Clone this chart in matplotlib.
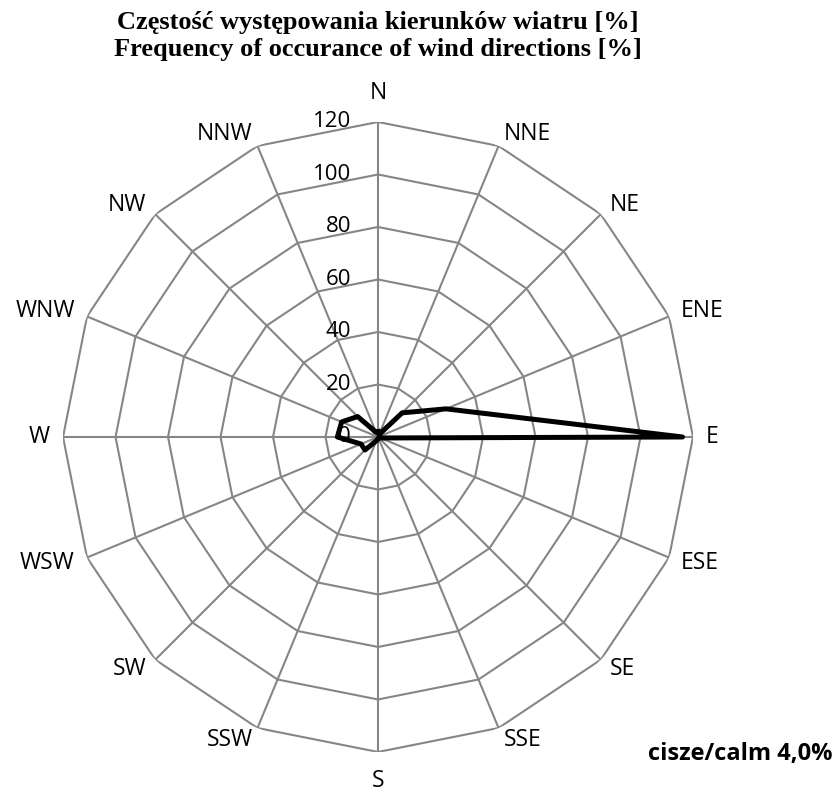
import numpy as np
import matplotlib.pyplot as plt

## Wind rose data (frequency of wind directions)

directions = ['N', 'NNE', 'NE', 'ENE', 'E', 'ESE', 'SE', 'SSE',
              'S', 'SSW', 'SW', 'WSW', 'W', 'WNW', 'NW', 'NNW']
freq = [2, 1, 13, 28, 116, 1, 0.5, 0.5, 0.5, 1.5, 7, 7, 15.5, 15, 11, 2]
rings = [20, 40, 60, 80, 100, 120]
ring_labels = ['20', '40', '60', '80', '100', '120']
calm_text = 'cisze/calm 4,0%'

theta = np.deg2rad(np.arange(len(directions)) * 22.5)
theta_closed = np.append(theta, theta[0])
grid_col = '#868686'

fig = plt.figure(figsize=(8.38, 7.94), dpi=100)
ax = fig.add_axes([0.0752, 0.0529, 0.7518, 0.7935], projection='polar')
ax.set_theta_zero_location('N')
ax.set_theta_direction(-1)
ax.set_ylim(0, 120)
ax.grid(False)
ax.spines['polar'].set_visible(False)
ax.set_xticks([])
ax.set_yticks([])

# polygon grid, Excel radar style
for r in rings:
    ax.plot(theta_closed, [r] * len(theta_closed), color=grid_col, lw=1.5, zorder=1)
for t in theta:
    ax.plot([t, t], [0, 120], color=grid_col, lw=1.5, zorder=1)

# data
vals = np.append(freq, freq[0])
ax.plot(theta_closed, vals, color='black', lw=3.6, zorder=3, solid_joinstyle='round')

# direction labels
for t, name in zip(theta, directions):
    s, c = np.sin(t), np.cos(t)
    if abs(s) < 0.01:
        ha = 'center'
    elif s > 0:
        ha = 'left'
    else:
        ha = 'right'
    ax.text(t, 131 if abs(s) < 0.01 else 125, name, ha=ha, va='center',
            fontsize=16.5, family='Open Sans')

# radial value labels
trans = ax.transData
for r, lab in zip(rings, ring_labels):
    x, y = trans.transform((0, r))
    fig.text((x - 27) / fig.bbox.width, y / fig.bbox.height, lab,
             ha='right', va='center', fontsize=16, family='Open Sans')
# zero label
x0, y0 = trans.transform((0, 0))
fig.text((x0 - 27) / fig.bbox.width, y0 / fig.bbox.height, '0',
         ha='right', va='center', fontsize=16, family='Open Sans')

fig.text(0.451, 0.986, 'Częstość występowania kierunków wiatru [%]\nFrequency of occurance of wind directions [%]',
         ha='center', va='top', fontsize=19, fontweight='bold',
         family='Liberation Serif', linespacing=1.2)

fig.text(0.993, 0.051, calm_text, ha='right', va='center',
         fontsize=17, fontweight='bold', family='Open Sans')

fig.savefig('out.png', dpi=100)
